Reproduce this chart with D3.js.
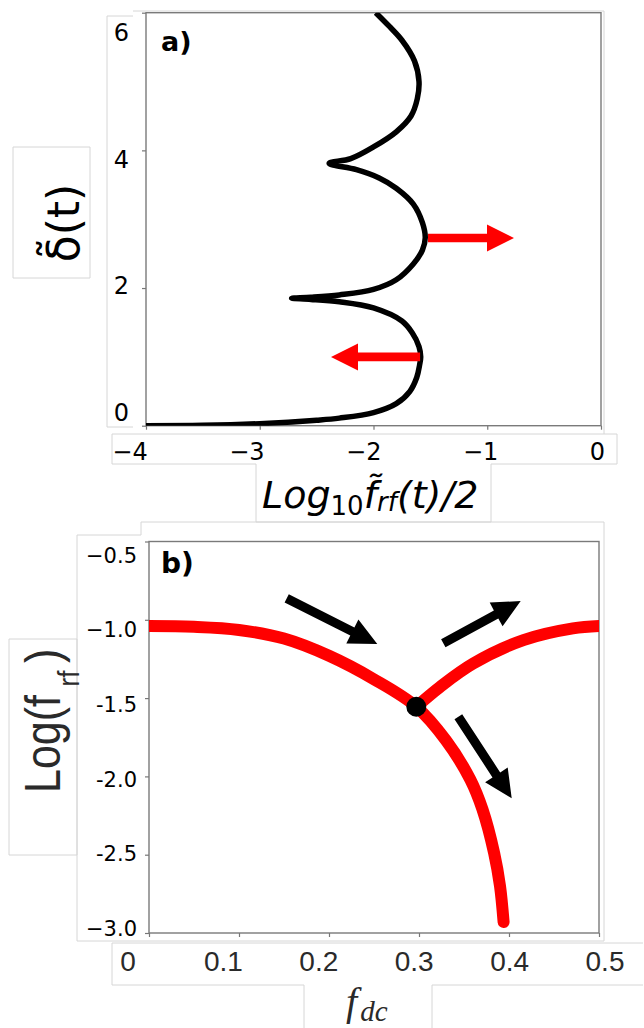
<!doctype html>
<html>
<head>
<meta charset="utf-8">
<title>delta vs f_rf and bifurcation</title>
<script src="https://cdn.jsdelivr.net/npm/d3@7"></script>
<style>
  body { margin: 0; background: #fff; }
  svg { display: block; }
</style>
</head>
<body>
<script>

    // panel a) : black trajectory, x = log10(f_rf)/2 , y = delta
    var topLogF  = [-4.0, -3.5, -3.0, -2.5, -2.3, -2.0, -1.8, -1.68, -1.62, -1.595, -1.585, -1.6, -1.66, -1.75, -2.0, -2.3, -2.55, -2.72,
                    -2.55, -2.3, -2.0, -1.8, -1.65, -1.57, -1.545, -1.57, -1.65, -1.8, -1.95, -2.15, -2.39,
                    -2.2, -2.0, -1.8, -1.67, -1.615, -1.6, -1.64, -1.75, -1.86, -1.98];
    var topDelta = [0.0, 0.005, 0.03, 0.08, 0.11, 0.19, 0.32, 0.5, 0.7, 0.88, 1.0, 1.15, 1.35, 1.52, 1.71, 1.8, 1.835, 1.85,
                    1.865, 1.9, 1.98, 2.12, 2.35, 2.55, 2.73, 2.95, 3.22, 3.45, 3.6, 3.72, 3.81,
                    3.88, 4.05, 4.27, 4.5, 4.75, 5.0, 5.3, 5.6, 5.8, 6.0];
    var topXTicks = [-4, -3, -2, -1, 0];
    var topXTickLabels = ["\u22124", "\u22123", "\u22122", "\u22121", "0"];
    var topYTicks = [0, 2, 4, 6];
    var topYTickLabels = ["0", "2", "4", "6"];
    // red arrows [tailX, tailY, tipX, tipY] in data units
    var topArrows = [[-1.521, 2.727, -0.765, 2.727],
                     [-1.59, 1.0, -2.374, 1.0]];

    // panel b) : red branches, x = f_dc , y = log(f_rf)
    var mainF = [0, 0.05, 0.1, 0.15, 0.2, 0.25, 0.297, 0.33, 0.357, 0.3705, 0.3835, 0.39, 0.394];
    var mainV = [-1.04, -1.045, -1.065, -1.12, -1.23, -1.38, -1.555, -1.77, -2.02, -2.21, -2.49, -2.70, -2.93];
    var upperF = [0.297, 0.323, 0.36, 0.416, 0.471, 0.5];
    var upperV = [-1.555, -1.43, -1.28, -1.13, -1.055, -1.04];
    var junction = [0.297, -1.555];
    var botXTicks = [0, 0.1, 0.2, 0.3, 0.4, 0.5];
    var botXTickLabels = ["0", "0.1", "0.2", "0.3", "0.4", "0.5"];
    var botYTicks = [-0.5, -1.0, -1.5, -2.0, -2.5, -3.0];
    var botYTickLabels = ["\u22120.5", "\u22121.0", "-1.5", "-2.0", "-2.5", "\u22123.0"];
    var botArrows = [[0.153, -0.863, 0.2537, -1.155],
                     [0.327, -1.15, 0.413, -0.88],
                     [0.3437, -1.619, 0.403, -2.14]];

    var svg = d3.select("body").append("svg")
        .attr("width", 644)
        .attr("height", 1028);

    svg.append("rect").attr("width", 644).attr("height", 1028).attr("fill", "#fff");

    // faint outlines of the pasted pieces
    var boxes = [
        "M133,16 H107 V427 H133",
        "M133,11 H604 V434 H112 V464 H256 M491,464 H617 V434 H604",
        "M13,147 H90 V278 H13 Z",
        "M256,464 V522 H491 V464",
        "M141,522 H604 V941 H77 V535 H141 Z",
        "M9,639 H77 V855 H9 Z",
        "M112,943 H643 M112,943 V985 H304 M432,985 H643",
        "M304,985 V1028 M432,985 V1028"
    ];
    svg.selectAll("path.box").data(boxes).enter().append("path")
        .attr("class", "box")
        .attr("d", function(d) { return d; })
        .attr("fill", "none")
        .attr("stroke", "#d6d6d6")
        .attr("stroke-width", 1);

    function arrowPoly(x0, y0, x1, y1, w, L, H) {
        var dx = x1 - x0, dy = y1 - y0;
        var len = Math.sqrt(dx*dx + dy*dy);
        var ux = dx/len, uy = dy/len, nx = -uy, ny = ux;
        var bx = x1 - ux*L, by = y1 - uy*L;
        var p = [[x0 + nx*w, y0 + ny*w], [bx + nx*w, by + ny*w], [bx + nx*H, by + ny*H], [x1, y1],
                 [bx - nx*H, by - ny*H], [bx - nx*w, by - ny*w], [x0 - nx*w, y0 - ny*w]];
        return p.map(function(q) { return q[0].toFixed(1) + "," + q[1].toFixed(1); }).join(" ");
    }

    // ---------------- panel a ----------------
    var xTop = d3.scaleLinear().domain([-4, 0]).range([146, 601]);
    var yTop = d3.scaleLinear().domain([0, 6]).range([425.7, 12.7]);
    var xTopLab = d3.scaleLinear().domain([-4, 0]).range([130, 597.5]);
    var yTopLab = d3.scaleLinear().domain([0, 6]).range([412.5, 32]);

    var gxTop = svg.append("g").attr("transform", "translate(0,425.7)")
        .call(d3.axisBottom(xTop).tickValues(topXTicks).tickSize(4).tickFormat(""));
    var gyTop = svg.append("g").attr("transform", "translate(146,0)")
        .call(d3.axisLeft(yTop).tickValues(topYTicks).tickSize(4).tickFormat(""));
    [gxTop, gyTop].forEach(function(g) {
        g.select(".domain").remove();
        g.selectAll("line").attr("stroke", "#777").attr("stroke-width", 1.2);
    });

    svg.append("rect")
        .attr("x", 146).attr("y", 12.7)
        .attr("width", 601 - 146).attr("height", 425.7 - 12.7)
        .attr("fill", "none").attr("stroke", "#7a7a7a").attr("stroke-width", 1.4);

    svg.selectAll("text.txa").data(topXTicks).enter().append("text")
        .attr("class", "txa")
        .attr("x", function(d) { return xTopLab(d); })
        .attr("y", 460)
        .attr("text-anchor", "middle")
        .attr("font-family", "DejaVu Sans")
        .attr("font-size", "24px")
        .text(function(d, i) { return topXTickLabels[i]; });

    svg.selectAll("text.tya").data(topYTicks).enter().append("text")
        .attr("class", "tya")
        .attr("x", 129)
        .attr("y", function(d) { return yTopLab(d) + 8.7; })
        .attr("text-anchor", "end")
        .attr("font-family", "DejaVu Sans")
        .attr("font-size", "24px")
        .text(function(d, i) { return topYTickLabels[i]; });

    var topLine = d3.line()
        .x(function(d) { return xTop(d[0]); })
        .y(function(d) { return yTop(d[1]); })
        .curve(d3.curveCatmullRom.alpha(0.5));

    svg.append("clipPath").attr("id", "clipA")
        .append("rect").attr("x", 146).attr("y", 12.7)
        .attr("width", 601 - 146).attr("height", 425.7 - 12.7);

    svg.append("path")
        .datum(topLogF.map(function(v, i) { return [v, topDelta[i]]; }))
        .attr("d", topLine)
        .attr("clip-path", "url(#clipA)")
        .attr("fill", "none")
        .attr("stroke", "#000")
        .attr("stroke-width", 5.5)
        .attr("stroke-linejoin", "round");

    svg.selectAll("polygon.ra").data(topArrows).enter().append("polygon")
        .attr("class", "ra")
        .attr("points", function(d) {
            return arrowPoly(xTop(d[0]), yTop(d[1]), xTop(d[2]), yTop(d[3]), 4.3, 27, 13.5);
        })
        .attr("fill", "#ff0000");

    svg.append("text")
        .attr("x", 161).attr("y", 51)
        .attr("font-family", "DejaVu Sans")
        .attr("font-weight", "bold")
        .attr("font-size", "27px")
        .text("a)");

    var xlabA = svg.append("text")
        .attr("x", 262).attr("y", 508)
        .attr("font-family", "DejaVu Sans")
        .attr("font-style", "italic")
        .attr("font-size", "38px");
    xlabA.append("tspan").text("Log");
    xlabA.append("tspan").attr("dy", 7).attr("font-size", "26px").attr("font-style", "normal").text("10");
    xlabA.append("tspan").attr("dy", -7).text("f\u0303");
    xlabA.append("tspan").attr("dy", 3).attr("font-size", "26px").text("rf");
    xlabA.append("tspan").attr("dy", -3).text("(t)/2");

    svg.append("text")
        .attr("transform", "translate(79,223) rotate(-90)")
        .attr("text-anchor", "middle")
        .attr("font-family", "DejaVu Sans")
        .attr("font-size", "44px")
        .text("\u03b4\u0303(t)");

    // ---------------- panel b ----------------
    var xBot = d3.scaleLinear().domain([0, 0.5]).range([149, 599]);
    var yBot = d3.scaleLinear().domain([-3, -0.5]).range([933, 541.5]);
    var xBotLab = d3.scaleLinear().domain([0, 0.5]).range([128, 605]);
    var yBotLab = d3.scaleLinear().domain([-3, -0.5]).range([928.5, 555]);

    var gxBot = svg.append("g").attr("transform", "translate(0,933)")
        .call(d3.axisBottom(xBot).tickValues(botXTicks).tickSize(4).tickFormat(""));
    var gyBot = svg.append("g").attr("transform", "translate(149,0)")
        .call(d3.axisLeft(yBot).tickValues(botYTicks).tickSize(4).tickFormat(""));
    [gxBot, gyBot].forEach(function(g) {
        g.select(".domain").remove();
        g.selectAll("line").attr("stroke", "#777").attr("stroke-width", 1.2);
    });

    svg.append("rect")
        .attr("x", 149).attr("y", 541.5)
        .attr("width", 599 - 149).attr("height", 933 - 541.5)
        .attr("fill", "none").attr("stroke", "#7a7a7a").attr("stroke-width", 1.4);

    svg.selectAll("text.txb").data(botXTicks).enter().append("text")
        .attr("class", "txb")
        .attr("x", function(d) { return xBotLab(d); })
        .attr("y", 970.7)
        .attr("text-anchor", "middle")
        .attr("font-family", "Liberation Sans")
        .attr("font-size", "28px")
        .attr("fill", "#2a2a2a")
        .text(function(d, i) { return botXTickLabels[i]; });

    svg.selectAll("text.tyb").data(botYTicks).enter().append("text")
        .attr("class", "tyb")
        .attr("x", 137)
        .attr("y", function(d) { return yBotLab(d) + 7.6; })
        .attr("text-anchor", "end")
        .attr("font-family", "DejaVu Sans")
        .attr("font-size", "21px")
        .text(function(d, i) { return botYTickLabels[i]; });

    var botLine = d3.line()
        .x(function(d) { return xBot(d[0]); })
        .y(function(d) { return yBot(d[1]); })
        .curve(d3.curveCatmullRom.alpha(0.5));

    svg.append("clipPath").attr("id", "clipB")
        .append("rect").attr("x", 149).attr("y", 541.5)
        .attr("width", 599 - 149).attr("height", 933 - 541.5);

    var branches = [mainF.map(function(v, i) { return [v, mainV[i]]; }),
                    upperF.map(function(v, i) { return [v, upperV[i]]; })];
    svg.selectAll("path.br").data(branches).enter().append("path")
        .attr("class", "br")
        .attr("d", botLine)
        .attr("clip-path", "url(#clipB)")
        .attr("fill", "none")
        .attr("stroke", "#ff0000")
        .attr("stroke-width", 12)
        .attr("stroke-linecap", "round");

    svg.append("circle")
        .attr("cx", xBot(junction[0]))
        .attr("cy", yBot(junction[1]))
        .attr("r", 10)
        .attr("fill", "#000");

    svg.selectAll("polygon.ba").data(botArrows).enter().append("polygon")
        .attr("class", "ba")
        .attr("points", function(d) {
            return arrowPoly(xBot(d[0]), yBot(d[1]), xBot(d[2]), yBot(d[3]), 4.6, 28, 13.5);
        })
        .attr("fill", "#000");

    svg.append("text")
        .attr("x", 161).attr("y", 573)
        .attr("font-family", "DejaVu Sans")
        .attr("font-weight", "bold")
        .attr("font-size", "28px")
        .text("b)");

    var ylabB = svg.append("text")
        .attr("transform", "translate(60,793) rotate(-90) scale(0.86,1)")
        .attr("font-family", "Liberation Sans")
        .attr("font-size", "50px")
        .attr("fill", "#2a2a2a");
    ylabB.append("tspan").text("Log(f");
    ylabB.append("tspan").attr("dx", 10).attr("dy", 19).attr("font-size", "30px").text("rf");
    ylabB.append("tspan").attr("dx", 9).attr("dy", -19).text(")");

    var xlabB = svg.append("text")
        .attr("x", 346).attr("y", 1015)
        .attr("font-family", "Liberation Serif")
        .attr("font-style", "italic")
        .attr("font-size", "40px")
        .attr("fill", "#2a2a2a");
    xlabB.append("tspan").text("f");
    xlabB.append("tspan").attr("dx", 3).attr("dy", 6).attr("font-size", "29px").text("dc");

</script>
</body>
</html>
